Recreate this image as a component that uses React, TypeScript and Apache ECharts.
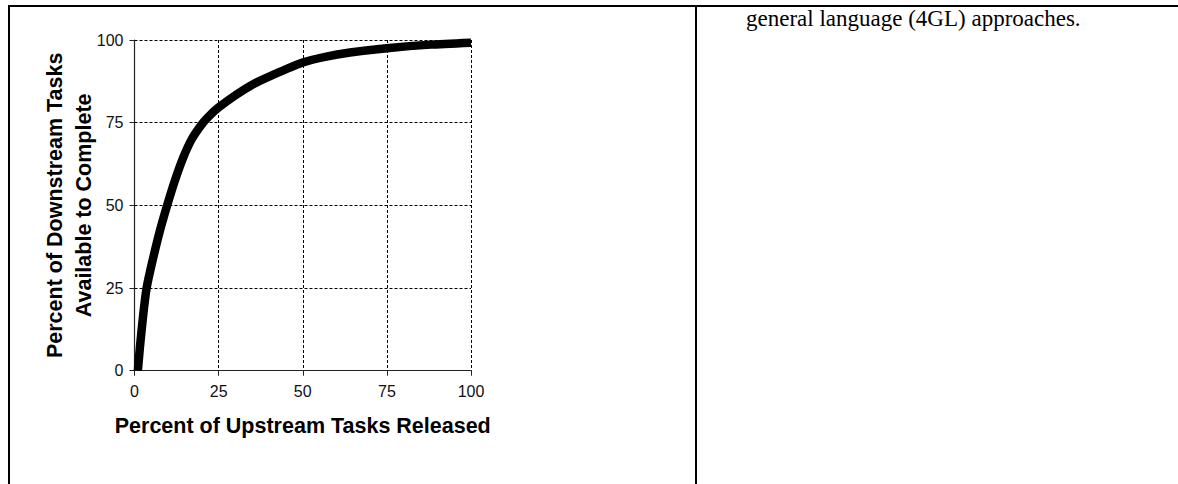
import React, { useEffect, useRef } from "react";
import * as echarts from "echarts";

// Percent of upstream tasks released (x) and percent of downstream tasks available (y)
const upstreamReleased = [1, 1.6, 2.6, 3.6, 5.3, 7.6, 10, 12, 14.5, 17, 20, 22.5, 25, 30, 35, 41, 50, 57, 64, 75, 88, 100];
const downstreamAvailable = [0, 7, 17, 25, 33, 42.5, 51, 57.5, 64.5, 70, 74.5, 77.3, 79.6, 83.3, 86.5, 89.4, 93.2, 95, 96.2, 97.5, 98.6, 99.2];

const xTicks = [0, 25, 50, 75, 100];
const yTicks = [0, 25, 50, 75, 100];

const xTitle = "Percent of Upstream Tasks Released";
const yTitle = "Percent of Downstream Tasks\nAvailable to Complete";
const sideText = "general language (4GL) approaches.";

const SANS = "Arial, 'Liberation Sans', Helvetica, sans-serif";
const SERIF = "'Times New Roman', 'Liberation Serif', serif";

export default function App() {
  const ref = useRef<HTMLDivElement>(null);

  useEffect(() => {
    if (!ref.current) return;
    const chart = echarts.init(ref.current, null, { renderer: "svg" });
    const data = upstreamReleased.map((x, i) => [x, downstreamAvailable[i]]);
    const axisCommon = {
      type: "value" as const,
      interval: 25,
      axisLine: { show: true, lineStyle: { color: "#222", width: 1.2 } },
      axisTick: { show: true, length: 5, inside: false, lineStyle: { color: "#222", width: 1 } },
      splitLine: { show: true, lineStyle: { color: "#000", width: 1, type: [3, 2] } },
      nameLocation: "middle" as const,
      nameMoveOverlap: false,
    };
    chart.setOption({
      animation: false,
      backgroundColor: "#fff",
      grid: { left: 134.5, right: 707, top: 40, bottom: 113.3 },
      xAxis: {
        ...axisCommon,
        min: xTicks[0],
        max: xTicks[xTicks.length - 1],
        name: xTitle,
        nameGap: 44,
        nameTextStyle: { fontSize: 21.5, fontWeight: "bold", color: "#000", fontFamily: SANS },
        axisLabel: { fontSize: 16, color: "#111", margin: 13, fontFamily: SANS },
      },
      yAxis: {
        ...axisCommon,
        min: yTicks[0],
        max: yTicks[yTicks.length - 1],
        name: yTitle,
        nameGap: 36,
        nameTextStyle: {
          fontSize: 21.5,
          fontWeight: "bold",
          color: "#000",
          fontFamily: SANS,
          lineHeight: 29,
        },
        axisLabel: { fontSize: 16, color: "#111", margin: 11, fontFamily: SANS },
      },
      series: [
        {
          type: "line",
          data,
          symbol: "none",
          showSymbol: false,
          smooth: 0.2,
          lineStyle: { color: "#000", width: 8.5, cap: "butt", join: "round" },
        },
      ],
      graphic: [
        { type: "rect", shape: { x: 8, y: 5, width: 1170, height: 2 }, style: { fill: "#000" } },
        { type: "rect", shape: { x: 8, y: 5, width: 2, height: 479 }, style: { fill: "#000" } },
        { type: "rect", shape: { x: 695, y: 5, width: 2, height: 479 }, style: { fill: "#000" } },
        {
          type: "text",
          x: 746,
          y: 7,
          style: {
            text: sideText,
            fontSize: 23,
            fontFamily: SERIF,
            fill: "#000",
            verticalAlign: "top",
          },
        },
      ],
    });
    return () => chart.dispose();
  }, []);

  return (
    <div
      ref={ref}
      style={{ position: "absolute", left: 0, top: 0, width: 1178, height: 484, background: "#fff" }}
    />
  );
}
